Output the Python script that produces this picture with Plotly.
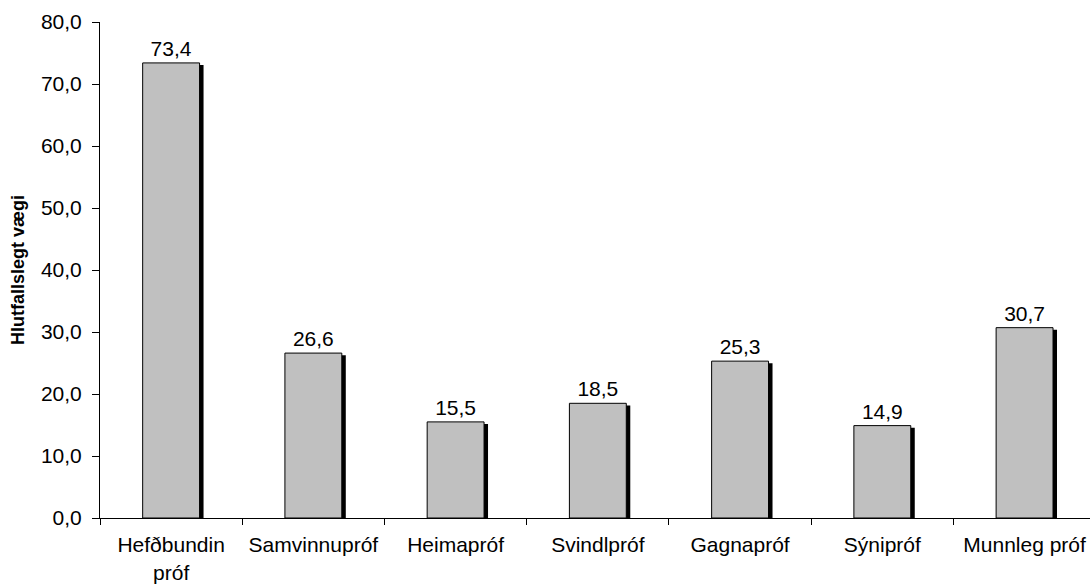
import plotly.graph_objects as go

categories = ["Hefðbundin<br>próf", "Samvinnupróf", "Heimapróf", "Svindlpróf",
              "Gagnapróf", "Sýnipróf", "Munnleg próf"]
values = [73.4, 26.6, 15.5, 18.5, 25.3, 14.9, 30.7]
y_ticks = [0, 10, 20, 30, 40, 50, 60, 70, 80]

FONT = "Arial, Liberation Sans, sans-serif"
BAR_W = 0.4

fig = go.Figure()

# drop shadow: same bars, nudged right and slightly down
fig.add_trace(go.Bar(
    x=categories, y=values, base=-0.35,
    width=BAR_W, offset=-BAR_W / 2 + 0.028,
    marker=dict(color="black", line=dict(width=0)),
    hoverinfo="skip", showlegend=False,
))

fig.add_trace(go.Bar(
    x=categories, y=values,
    width=BAR_W, offset=-BAR_W / 2,
    marker=dict(color="#C0C0C0", line=dict(color="black", width=1)),
    text=values, texttemplate="%{y:.1f}", textposition="outside",
    textfont=dict(family=FONT, size=21, color="black"),
    cliponaxis=False, showlegend=False,
))

fig.update_layout(
    width=1090, height=585,
    margin=dict(l=100, r=0, t=22, b=67),
    paper_bgcolor="white", plot_bgcolor="white",
    barmode="overlay", separators=",.",
    font=dict(family=FONT, size=21, color="black"),
    xaxis=dict(
        range=[-0.5, 6.46], showline=True, linecolor="black", linewidth=1,
        ticks="outside", tickson="boundaries", ticklen=6, tickcolor="black",
        showgrid=False, zeroline=False, ticklabelstandoff=8,
        tickfont=dict(family=FONT, size=21),
    ),
    yaxis=dict(
        range=[0, 80], tickvals=y_ticks, tickformat=".1f",
        showline=True, linecolor="black", linewidth=1,
        ticks="outside", ticklen=7, tickcolor="black",
        showgrid=False, zeroline=False, ticklabelstandoff=6,
        tickfont=dict(family=FONT, size=21),
        title=dict(text="<b>Hlutfallslegt vægi</b>", font=dict(family=FONT, size=18),
                   standoff=11),
    ),
)

fig.write_html("out.html")
